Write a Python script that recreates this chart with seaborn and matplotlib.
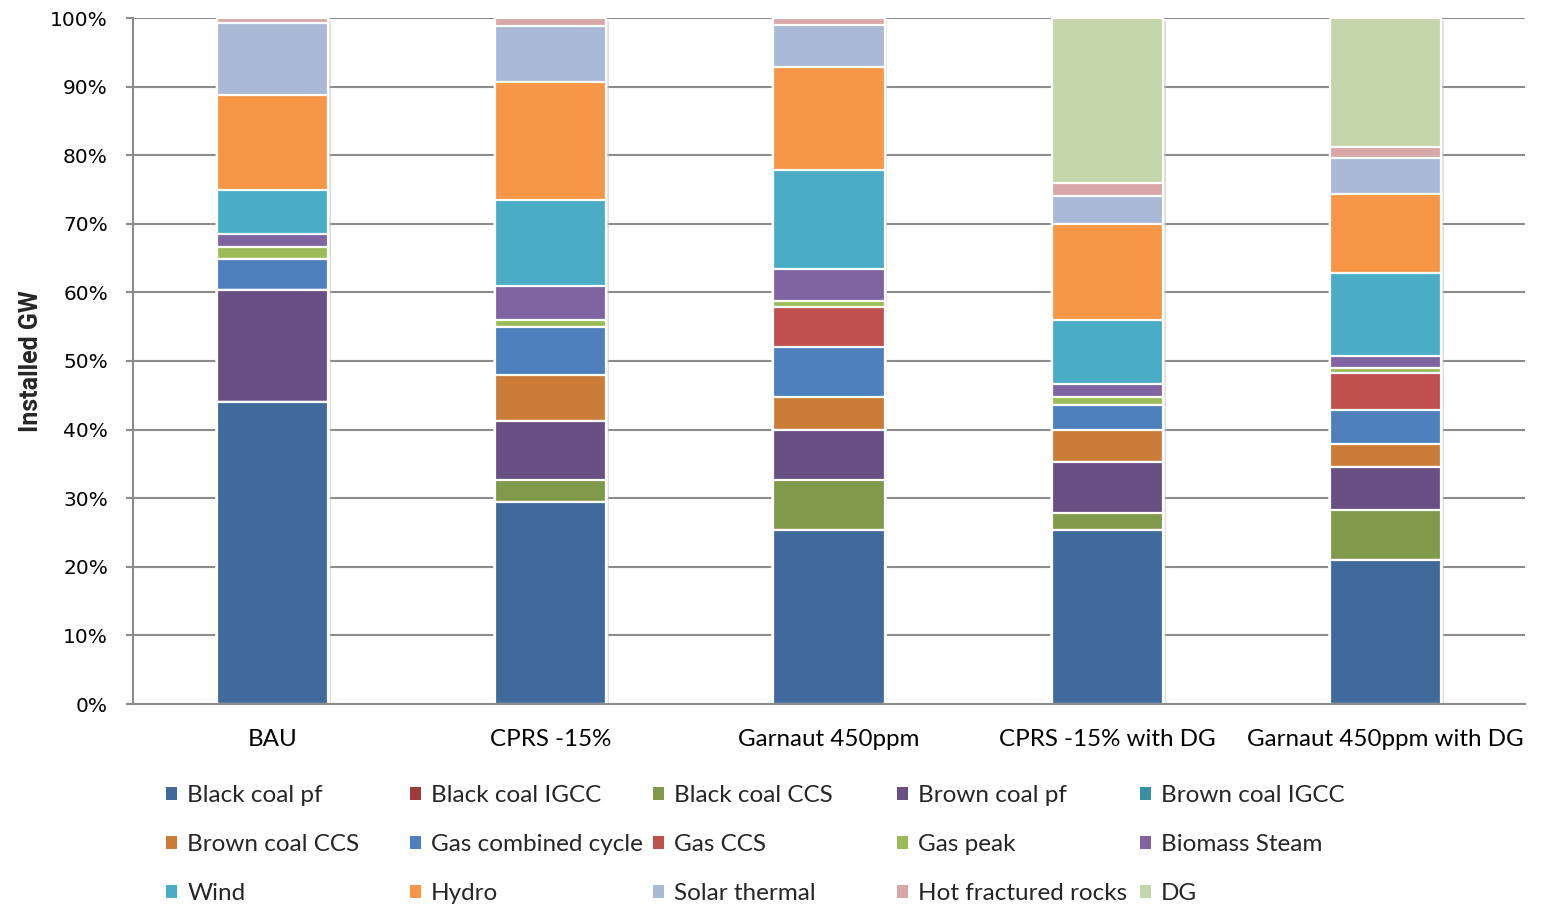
import numpy as np
import pandas as pd
import matplotlib
matplotlib.use("Agg")
import matplotlib.pyplot as plt
import matplotlib.patheffects as pe
from matplotlib.patches import Patch
import seaborn as sns

# Scenario names along the x axis
scenarios = ["BAU", "CPRS -15%", "Garnaut 450ppm", "CPRS -15% with DG", "Garnaut 450ppm with DG"]

# Share of installed capacity (%) per technology, one value per scenario
black_coal_pf = [44.0, 29.5, 25.4, 25.3, 21.0]
black_coal_igcc = [0.0, 0.0, 0.0, 0.0, 0.0]
black_coal_ccs = [0.0, 3.2, 7.3, 2.6, 7.3]
brown_coal_pf = [16.3, 8.6, 7.3, 7.4, 6.3]
brown_coal_igcc = [0.0, 0.0, 0.0, 0.0, 0.0]
brown_coal_ccs = [0.0, 6.7, 4.7, 4.7, 3.3]
gas_combined_cycle = [4.6, 6.9, 7.4, 3.6, 5.0]
gas_ccs = [0.0, 0.0, 5.8, 0.0, 5.4]
gas_peak = [1.7, 1.1, 0.9, 1.1, 0.7]
biomass_steam = [1.9, 5.0, 4.6, 2.0, 1.8]
wind = [6.4, 12.4, 14.5, 9.3, 12.1]
hydro = [13.9, 17.2, 14.9, 14.0, 11.5]
solar_thermal = [10.5, 8.2, 6.2, 4.0, 5.2]
hot_fractured_rocks = [0.7, 1.2, 1.0, 2.0, 1.6]
dg = [0.0, 0.0, 0.0, 24.0, 18.8]

technologies = ["Black coal pf", "Black coal IGCC", "Black coal CCS", "Brown coal pf",
                "Brown coal IGCC", "Brown coal CCS", "Gas combined cycle", "Gas CCS",
                "Gas peak", "Biomass Steam", "Wind", "Hydro", "Solar thermal",
                "Hot fractured rocks", "DG"]
series = [black_coal_pf, black_coal_igcc, black_coal_ccs, brown_coal_pf, brown_coal_igcc,
          brown_coal_ccs, gas_combined_cycle, gas_ccs, gas_peak, biomass_steam, wind,
          hydro, solar_thermal, hot_fractured_rocks, dg]
colors = ["#406A9B", "#9E3B39", "#80994A", "#684F84", "#3A8FA5", "#CB7C38", "#4D80BC",
          "#C0504D", "#9BBB59", "#8064A2", "#4BACC6", "#F79646", "#AAB9D6", "#D9A7A7",
          "#C6D6AB"]

values = pd.DataFrame(np.array(series).T, index=scenarios, columns=technologies)
shares = values.div(values.sum(axis=1), axis=0) * 100.0
cumulative = shares.cumsum(axis=1)

sns.set_theme(style="white")
plt.rcParams["font.family"] = ["Lato", "DejaVu Sans"]

fig = plt.figure(figsize=(15.46, 9.07), dpi=100)
ax = fig.add_axes([133 / 1546, 1 - 704 / 907, (1525 - 133) / 1546, (704 - 18) / 907])

grid_col = "#8C8C8C"
ax.set_axisbelow(True)
ax.yaxis.grid(True, color=grid_col, linewidth=1.5)
ax.xaxis.grid(False)

# Stacked bars: draw running totals from the top layer down so each layer
# paints over the ones above it.
for i in range(len(technologies) - 1, -1, -1):
    tech = technologies[i]
    sns.barplot(x=scenarios, y=cumulative[tech].values, color=colors[i], width=0.4,
                edgecolor="white", linewidth=1.6, saturation=1, errorbar=None, ax=ax,
                zorder=2)
    if i == len(technologies) - 1:
        for p in ax.patches:
            p.set_path_effects([pe.SimplePatchShadow(offset=(2, -2), shadow_rgbFace="#BFBFBF",
                                                     alpha=0.5), pe.Normal()])

ax.set_xlim(-0.5, len(scenarios) - 0.5)
ax.set_ylim(0, 100)
ax.set_yticks(np.arange(0, 101, 10))
ax.set_yticklabels([f"{v}%" for v in range(0, 101, 10)], family="DejaVu Sans", fontsize=14.5)
ax.set_xticks(range(len(scenarios)))
ax.set_xticklabels(scenarios, fontsize=17.4)
ax.set_xticks(np.arange(-0.5, len(scenarios), 1.0), minor=True)
ax.tick_params(axis="x", which="major", length=0, pad=18, colors="black")
ax.tick_params(axis="x", which="minor", length=6, width=1.5, color=grid_col, direction="out")
ax.tick_params(axis="y", which="major", length=5, width=1.5, color=grid_col, pad=13,
               direction="out", left=True, labelcolor="black")

for side in ["top", "right"]:
    ax.spines[side].set_visible(False)
for side in ["left", "bottom"]:
    ax.spines[side].set_color(grid_col)
    ax.spines[side].set_linewidth(1.5)

ax.set_xlabel("")
ax.set_ylabel("Installed GW", fontsize=18, fontweight="bold", family=["Roboto", "DejaVu Sans"],
              labelpad=5)

# Legend laid out in five columns of three rows
col_x = [166, 410, 653, 897, 1140]
ncols = 5
for c in range(ncols):
    idx = [r * ncols + c for r in range(3)]
    handles = [Patch(facecolor=colors[k], edgecolor="none") for k in idx]
    labels = [technologies[k] for k in idx]
    leg = fig.legend(handles, labels, loc="upper left",
                     bbox_to_anchor=(col_x[c] / 1546, 1 - 785 / 907),
                     frameon=False, fontsize=17.5, handlelength=0.45, handleheight=0.45,
                     handletextpad=0.42, labelspacing=1.15, borderpad=0, borderaxespad=0)

fig.savefig("out.png", dpi=100, facecolor="white")
